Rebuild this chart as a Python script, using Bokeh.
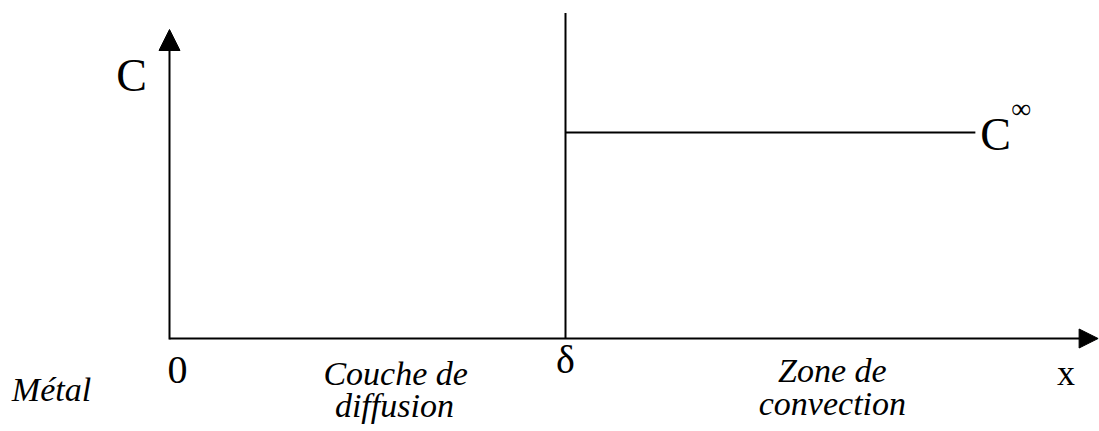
from bokeh.plotting import figure
from bokeh.models import Range1d, Arrow, NormalHead, ColumnDataSource
from bokeh.core.properties import value
from bokeh.embed import file_html
from bokeh.resources import INLINE

# ---- diagram values (data units: x in units of delta, y in units of C_inf) ----
x_origin = [0.0]
delta = [1.0]            # diffusion layer thickness
c_inf = [1.0]            # bulk concentration
c_inf_end = [2.035]      # end of the bulk concentration line
delta_line_top = [1.58]  # top of the delta boundary line
x_axis_end = [2.345]
y_axis_end = [1.50]

axis_labels = ["C", "x"]
point_labels = ["0", "δ"]
zone_labels = ["Métal", "Couche de", "diffusion", "Zone de", "convection"]

# pixel scale of the reference: 396 px per delta, 206 px per C_inf
PX_X, PX_Y = 396.0, 206.0
W, H = 1099, 431
x_start, x_stop = -169 / PX_X, (W - 169) / PX_X
y_start, y_stop = -(H - 338) / PX_Y, 338 / PX_Y

p = figure(width=W, height=H, output_backend="svg", toolbar_location=None,
           x_range=Range1d(x_start, x_stop), y_range=Range1d(y_start, y_stop),
           x_axis_location=None, y_axis_location=None, min_border=0,
           outline_line_color=None, background_fill_color="white",
           border_fill_color="white")
p.grid.visible = False

FONT = value("Liberation Serif")

# axes with arrow heads
p.add_layout(Arrow(x_start=x_origin[0], y_start=0, x_end=x_axis_end[0], y_end=0,
                   line_width=2, line_color="black",
                   end=NormalHead(size=19, fill_color="black", line_color="black", line_width=1)))
p.add_layout(Arrow(x_start=x_origin[0], y_start=-0.005, x_end=x_origin[0], y_end=y_axis_end[0],
                   line_width=2, line_color="black",
                   end=NormalHead(size=21, fill_color="black", line_color="black", line_width=1)))

# delta boundary and bulk concentration
p.line([delta[0], delta[0]], [0, delta_line_top[0]], line_color="black", line_width=2)
p.line([delta[0], c_inf_end[0]], [c_inf[0], c_inf[0]], line_color="black", line_width=2)

# axis name "C"
p.text(x=[x_origin[0]], y=[y_axis_end[0]], text=[axis_labels[0]], x_offset=-38, y_offset=46,
       text_font=FONT, text_font_size="46px", text_align="center", text_baseline="alphabetic",
       text_color="black")
# axis name "x"
p.text(x=[x_axis_end[0]], y=[0], text=[axis_labels[1]], x_offset=-32, y_offset=34,
       text_font=FONT, text_font_size="36px", text_align="center", text_baseline="alphabetic",
       text_color="black")

# C infinity label
p.text(x=[c_inf_end[0]], y=[c_inf[0]], text=["C"], x_offset=5, y_offset=2,
       text_font=FONT, text_font_size="46px", text_align="left", text_baseline="alphabetic",
       text_color="black")
p.text(x=[c_inf_end[0]], y=[c_inf[0]], text=["∞"], x_offset=36, y_offset=-24,
       text_font=FONT, text_font_size="28px", text_align="left", text_baseline="alphabetic",
       text_color="black")

# 0 and delta tick labels
p.text(x=[x_origin[0], delta[0]], y=[0, 0], text=point_labels, x_offset=[8, 0], y_offset=[31, 21],
       text_font=FONT, text_font_size="40px", text_align="center", text_baseline="alphabetic",
       text_color="black")

# zone labels (italic)
zone_src = ColumnDataSource(dict(
    x=[x_origin[0] - 0.298, delta[0] * 0.571, delta[0] * 0.568, delta[0] * 1.674, delta[0] * 1.674],
    y=[0, 0, 0, 0, 0],
    yo=[51, 35, 67, 32, 65],
    text=zone_labels,
))
p.text(x="x", y="y", text="text", y_offset="yo", source=zone_src,
       text_font=FONT, text_font_size="34px", text_font_style="italic",
       text_align="center", text_baseline="alphabetic", text_color="black")

open("out.html", "w").write(file_html(p, INLINE))
